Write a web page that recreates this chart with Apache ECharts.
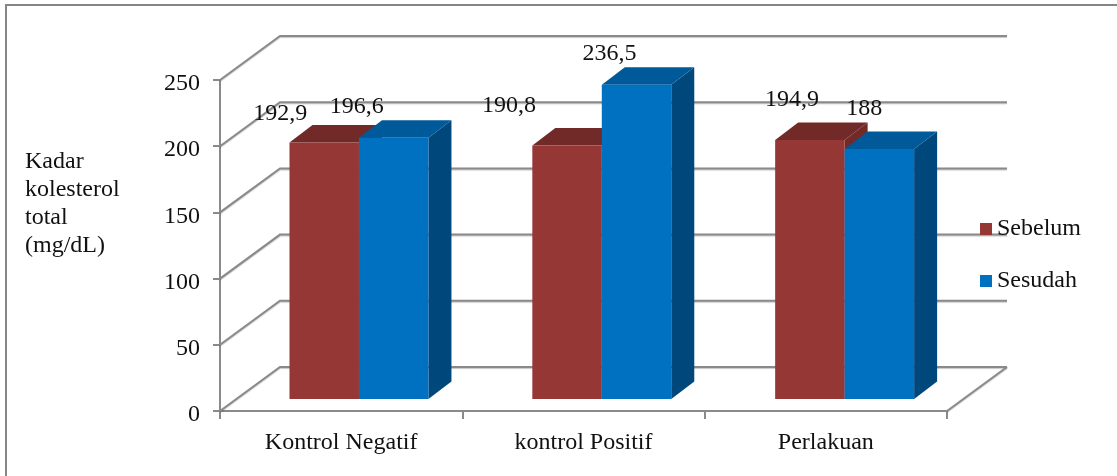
<!DOCTYPE html>
<html>
<head>
<meta charset="utf-8">
<style>html,body{margin:0;padding:0;background:#fff}#c{width:1117px;height:476px}</style>
<script src="https://cdn.jsdelivr.net/npm/echarts@6/dist/echarts.min.js"></script>
</head>
<body>
<div id="c"></div>
<script>
var categories = ['Kontrol Negatif', 'kontrol Positif', 'Perlakuan'];
var sebelum = [192.9, 190.8, 194.9];
var sesudah = [196.6, 236.5, 188];
var yTicks = [0, 50, 100, 150, 200, 250];
var axisTitle = 'Kadar\nkolesterol\ntotal\n(mg/dL)';

var FONT = '"Liberation Serif","Times New Roman",serif';
var FS = 24;
var INK = '#111111';
var GRID = '#8a8a8a';
// wall depth and bar placement in the faux-3D projection
var WALL_DX = 60, WALL_DY = -44;
var BAR_SHIFT_X = 17.8, BAR_SHIFT_STEP = 0.5, BAR_BASE_Y = -12, BAR_TOP_Y = -13;
var BAR_DX = 23, BAR_DY = -17.5, BAR_WIDTH_RATIO = 0.2867;
// hand placement of the value labels relative to each bar's top centre
var nudgeSebelum = [[-44, -29], [-58, -40], [-18, -40]];
var nudgeSesudah = [[-37, -31], [-27, -31], [-15, -40]];

function poly(pts, fill) {
  return { type: 'polygon', shape: { points: pts }, style: { fill: fill }, silent: true };
}
function fmt(v) { return String(v).replace('.', ','); }

function barSeries(name, values, nudges, front, top, side, dir) {
  return {
    name: name,
    type: 'custom',
    coordinateSystem: 'cartesian2d',
    itemStyle: { color: front },
    encode: { x: 0, y: 1 },
    data: values.map(function (v, i) { return [i, v]; }),
    z: 3,
    renderItem: function (params, api) {
      var i = api.value(0), v = api.value(1);
      var w = api.size([1, 0])[0] * BAR_WIDTH_RATIO;
      var c0 = api.coord([i, 0]), c1 = api.coord([i, v]);
      var cx = c0[0] + BAR_SHIFT_X + BAR_SHIFT_STEP * i;
      var l = dir < 0 ? cx - w : cx, r = dir < 0 ? cx : cx + w;
      var b = c0[1] + BAR_BASE_Y, t = c1[1] + BAR_TOP_Y;
      var n = nudges[i];
      return {
        type: 'group',
        children: [
          poly([[r, t], [r + BAR_DX, t + BAR_DY], [r + BAR_DX, b + BAR_DY], [r, b]], side),
          poly([[l, t], [l + BAR_DX, t + BAR_DY], [r + BAR_DX, t + BAR_DY], [r, t]], top),
          poly([[l, t], [r, t], [r, b], [l, b]], front),
          {
            type: 'text',
            silent: true,
            style: {
              text: fmt(v), x: (l + r) / 2 + n[0], y: t + n[1],
              font: FS + 'px ' + FONT, fill: INK, align: 'center', verticalAlign: 'middle'
            }
          }
        ]
      };
    }
  };
}

var wallSeries = {
  name: 'walls',
  type: 'custom',
  coordinateSystem: 'cartesian2d',
  encode: { x: 0, y: 1 },
  data: yTicks.map(function (v) { return [0, v]; }),
  z: 1,
  silent: true,
  renderItem: function (params, api) {
    var v = api.value(1);
    var half = api.size([1, 0])[0] / 2;
    var a = api.coord([0, v]), e = api.coord([categories.length - 1, v]);
    var x0 = a[0] - half, x1 = e[0] + half, y = a[1];
    var ls = { stroke: GRID, lineWidth: 2, fill: null, shadowColor: 'rgba(0,0,0,0.22)', shadowBlur: 1, shadowOffsetY: 1 };
    var kids = [{
      type: 'polyline', silent: true,
      shape: { points: [[x0, y], [x0 + WALL_DX, y + WALL_DY], [x1 + WALL_DX, y + WALL_DY]] },
      style: ls
    }];
    if (v === 0) {
      kids.push({
        type: 'line', silent: true,
        shape: { x1: x1, y1: y, x2: x1 + WALL_DX, y2: y + WALL_DY },
        style: ls
      });
    }
    return { type: 'group', children: kids };
  }
};

var chart = echarts.init(document.getElementById('c'), null, { renderer: 'canvas' });
chart.setOption({
  animation: false,
  backgroundColor: '#fff',
  textStyle: { fontFamily: FONT },
  title: {
    text: axisTitle,
    left: 25,
    top: 148,
    padding: 0,
    textStyle: { fontFamily: FONT, fontSize: FS, fontWeight: 'normal', color: INK, lineHeight: 28 }
  },
  grid: { left: 220, top: 80, width: 727, height: 331 },
  legend: {
    data: ['Sebelum', 'Sesudah'],
    orient: 'vertical',
    left: 980,
    top: 217,
    icon: 'rect',
    itemWidth: 12,
    itemHeight: 12,
    itemGap: 28,
    padding: 0,
    textStyle: { fontFamily: FONT, fontSize: FS, color: INK }
  },
  xAxis: {
    type: 'category',
    data: categories,
    axisLine: { lineStyle: { color: GRID, width: 2 } },
    axisTick: { show: true, length: 8, lineStyle: { color: GRID, width: 2 } },
    axisLabel: { fontFamily: FONT, fontSize: FS, color: INK, margin: 20 },
    splitLine: { show: false }
  },
  yAxis: {
    type: 'value',
    min: 0,
    max: 250,
    interval: 50,
    axisLine: { show: true, lineStyle: { color: GRID, width: 2 } },
    axisTick: { show: true, length: 7, lineStyle: { color: GRID, width: 2 } },
    axisLabel: { fontFamily: FONT, fontSize: FS, color: INK, margin: 20, verticalAlign: 'top', lineHeight: 8 },
    splitLine: { show: false }
  },
  graphic: [
    { type: 'polyline', silent: true, shape: { points: [[6, 476], [6, 5], [1117, 5]] }, style: { stroke: '#868686', lineWidth: 2, fill: null } }
  ],
  series: [
    wallSeries,
    barSeries('Sebelum', sebelum, nudgeSebelum, '#953735', '#722a28', '#722a28', -1),
    barSeries('Sesudah', sesudah, nudgeSesudah, '#0070c0', '#005a9a', '#00477b', 1)
  ]
});
</script>
</body>
</html>
